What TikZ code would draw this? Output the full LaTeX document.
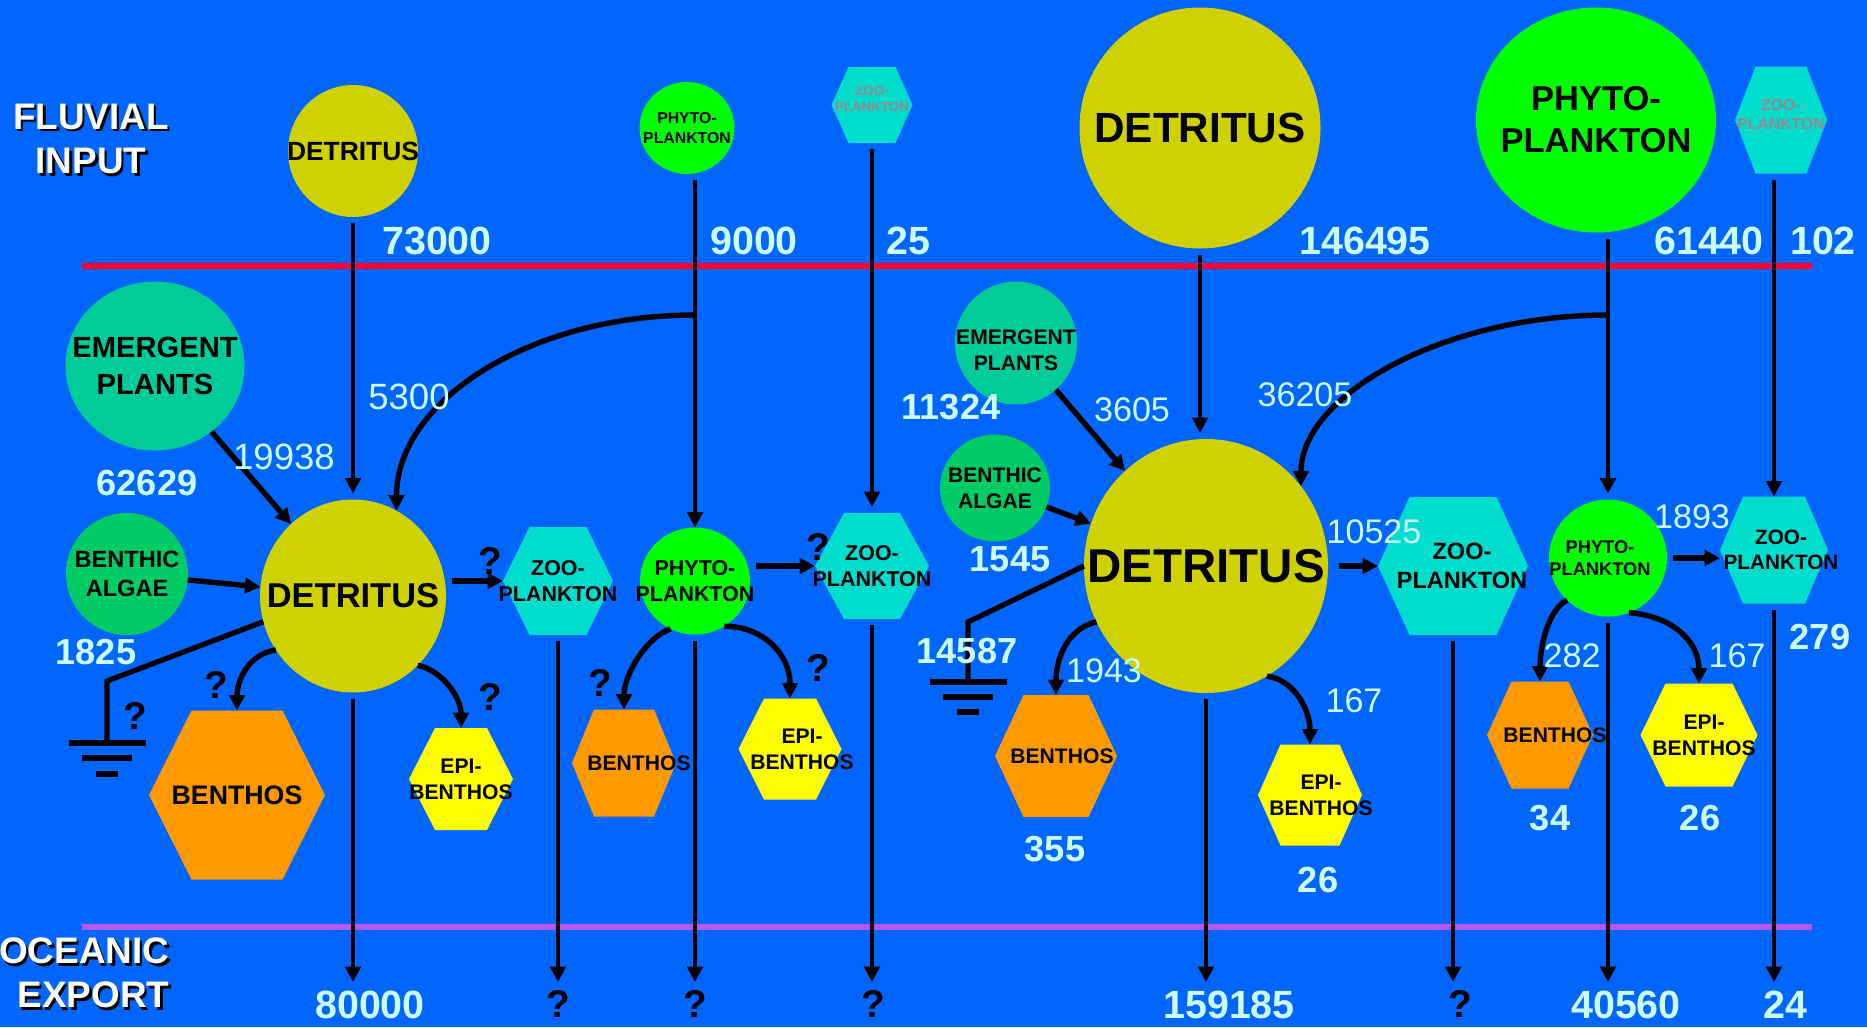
\documentclass[tikz,border=0pt]{standalone}
\usepackage{fontspec}
\setmainfont{Liberation Sans}
\usepackage{tikz}
\usetikzlibrary{shapes.geometric, arrows.meta, calc}

\definecolor{seablue}{RGB}{0,102,255}
\definecolor{detcol}{RGB}{208,210,0}
\definecolor{phycol}{RGB}{0,255,0}
\definecolor{zoocol}{RGB}{0,221,204}
\definecolor{emcol}{RGB}{0,204,153}
\definecolor{algcol}{RGB}{0,204,102}
\definecolor{bencol}{RGB}{255,153,0}
\definecolor{epicol}{RGB}{255,255,0}
\definecolor{numcol}{RGB}{204,255,255}
\definecolor{fluvred}{RGB}{255,0,51}
\definecolor{ocepurple}{RGB}{180,90,240}
\definecolor{fadetxt}{RGB}{150,135,145}

\newcommand{\fsz}[2]{\fontsize{#1}{#2}\selectfont}
% hexagon: name, centre, half width, half height, half top, fill, label options, text
\newcommand{\hexa}[8]{%
  \fill[#6] (#2) ++(-#3,0) -- ++(#3-#5,#4) -- ++(2*#5,0) -- ++(#3-#5,-#4) -- ++(#5-#3,-#4) -- ++(-2*#5,0) -- cycle;
  \node[hexbox, sz={2*#3}{2*#4}, label={[#7]center:{#8}}] (#1) at (#2) {};}

\begin{document}
\begin{tikzpicture}[x=0.01cm, y=0.01cm,
    blob/.style={ellipse, inner sep=0pt, outer sep=0pt},
    hexbox/.style={rectangle, inner sep=0pt, outer sep=0pt},
    sz/.style 2 args={minimum width=#1*0.01cm, minimum height=#2*0.01cm},
    every label/.style={align=center, inner sep=0pt},
    lsz/.style 2 args={font=\bfseries\fsz{#1}{#2}},
    val/.style={text=numcol, inner sep=0pt, font=\bfseries\fsz{11.2}{13}},
    stock/.style={text=numcol, inner sep=0pt, font=\bfseries\fsz{10.3}{12}},
    rate/.style={text=numcol, inner sep=0pt, font=\fsz{9.7}{12}},
    qmark/.style={inner sep=0pt, font=\bfseries\fsz{11}{13}},
    title/.style={inner sep=0pt, font=\bfseries\fsz{10.5}{12.6}},
    flow/.style={line width=1.2pt, -{Triangle[length=4.4pt, width=4.4pt]}},
    bent/.style={flow, line width=1.55pt},
    gap/.style={shorten <=0.06cm},
    gaps/.style={shorten <=0.06cm, shorten >=0.06cm},
    earth/.style={line width=1.5pt},
    boundary/.style={line width=1.45pt}]

\useasboundingbox (0,0) rectangle (1867,-1027);
\fill[seablue] (0,0) rectangle (1867,-1027);

% boundaries
\draw[boundary, fluvred] (82,-266) -- (1812,-266);
\draw[boundary, ocepurple] (82,-927) -- (1812,-927);

% titles
\node[title, align=center, text=black] (fluvialShade) at (93.5,-141.5) {FLUVIAL\\INPUT};
\node[title, align=center, text=white] (fluvial) at (91,-139) {FLUVIAL\\INPUT};
\node[title, align=right, anchor=east, text=black] (oceanicShade) at (172.5,-975.5) {OCEANIC\\EXPORT};
\node[title, align=right, anchor=east, text=white] (oceanic) at (170,-973) {OCEANIC\\EXPORT};

% river inputs
\node[blob, sz={130}{132}, fill=detcol, label={[lsz={7.5}{9}]center:{DETRITUS}}] (detIn) at (353,-151) {};
\node[blob, sz={95}{92}, fill=phycol, label={[lsz={4.5}{5.6}]center:{PHYTO-\\PLANKTON}}] (phyIn) at (687,-128) {};
\hexa{zooIn}{872,-105}{40.5}{38}{23.5}{zoocol}{lsz={3.8}{4.7}, text=fadetxt, yshift=0.06cm}{ZOO-\\PLANKTON}
\node[blob, sz={241}{241}, fill=detcol, label={[lsz={12}{14}]center:{DETRITUS}}] (detIn2) at (1200,-128) {};
\node[blob, sz={240}{225}, fill=phycol, label={[lsz={9.8}{12}]center:{PHYTO-\\PLANKTON}}] (phyIn2) at (1596,-120) {};
\hexa{zooIn2}{1781,-120}{46}{53.5}{25.5}{zoocol}{lsz={4.5}{5.4}, text=fadetxt, yshift=0.05cm}{ZOO-\\PLANKTON}

% left system
\node[blob, sz={179}{169}, fill=emcol, label={[lsz={8.3}{10.5}]center:{EMERGENT\\PLANTS}}] (emerL) at (155,-366) {};
\node[blob, sz={122}{122}, fill=algcol, label={[lsz={6.7}{8.2}]center:{BENTHIC\\ALGAE}}] (algL) at (127,-574) {};
\node[blob, sz={186}{193}, fill=detcol, label={[lsz={9.8}{12}]center:{DETRITUS}}] (detL) at (353,-596) {};
\node[blob, sz={110}{107}, fill=phycol, label={[lsz={6.1}{7.5}]center:{PHYTO-\\PLANKTON}}] (phyL) at (695,-581) {};
\hexa{zooL}{558,-581}{55}{54}{28.5}{zoocol}{lsz={6.1}{7.5}}{ZOO-\\PLANKTON}
\hexa{zooL2}{872,-566}{57}{53}{28}{zoocol}{lsz={6.1}{7.5}}{ZOO-\\PLANKTON}
\hexa{benL}{237,-795}{88}{84.5}{45.5}{bencol}{lsz={7.6}{9}}{BENTHOS}
\hexa{epiL}{461,-779}{52}{51}{26}{epicol}{lsz={6}{7.4}}{EPI-\\BENTHOS}
\hexa{benL2}{624,-763}{52}{53.5}{30}{bencol}{lsz={6}{7.4}, xshift=0.15cm}{BENTHOS}
\hexa{epiL2}{790,-749}{51.5}{50.5}{26}{epicol}{lsz={6}{7.4}, xshift=0.12cm}{EPI-\\BENTHOS}

% right system
\node[blob, sz={122}{123}, fill=emcol, label={[lsz={6}{7.4}, yshift=-0.07cm]center:{EMERGENT\\PLANTS}}] (emerR) at (1016,-343) {};
\node[blob, sz={110}{107}, fill=algcol, label={[lsz={6}{7.4}]center:{BENTHIC\\ALGAE}}] (algR) at (995,-488) {};
\node[blob, sz={244}{254}, fill=detcol, label={[lsz={13.5}{16}]center:{DETRITUS}}] (detR) at (1206,-566) {};
\node[blob, sz={118}{117}, fill=phycol, label={[lsz={5.2}{6.4}, xshift=-0.08cm]center:{PHYTO-\\PLANKTON}}] (phyR) at (1608,-558) {};
\hexa{zooR}{1453,-566}{75}{69}{43.5}{zoocol}{lsz={6.7}{8.2}, xshift=0.09cm}{ZOO-\\PLANKTON}
\hexa{zooR2}{1774,-550}{54}{53.5}{31}{zoocol}{lsz={5.9}{7.2}, xshift=0.07cm}{ZOO-\\PLANKTON}
\hexa{benR}{1056,-756}{61}{61}{32.5}{bencol}{lsz={6}{7.4}, xshift=0.06cm}{BENTHOS}
\hexa{epiR}{1310,-795}{52}{50.5}{29.5}{epicol}{lsz={6}{7.4}, xshift=0.11cm}{EPI-\\BENTHOS}
\hexa{benR2}{1540,-735}{53}{53.5}{28.5}{bencol}{lsz={6}{7.4}, xshift=0.15cm}{BENTHOS}
\hexa{epiR2}{1699,-735}{58.5}{51.5}{33.5}{epicol}{lsz={6}{7.4}, xshift=0.05cm}{EPI-\\BENTHOS}

\coordinate (branchRow) at (0,-315);
\coordinate (exportRow) at (0,-982);
\coordinate (splitL) at (phyL.north |- branchRow);
\coordinate (splitR) at (phyR.north |- branchRow);

% inflows
\draw[flow, gaps] (detIn.south) -- (detIn.south |- detL.north);
\draw[flow, gap] (phyL.north |- phyIn.south) -- (phyL.north);
\draw[flow, gaps] (zooIn.south) -- (zooL2.north);
\draw[flow, gaps] (detIn2.south) -- (detIn2.south |- detR.north);
\draw[flow, gaps] (phyR.north |- phyIn2.south) -- (phyR.north);
\draw[flow, gap] (zooR2.north |- zooIn2.south) -- (zooR2.north);
\draw[bent] (splitL) .. controls +(-166,0) and +(0,109) .. (detL.63);
\draw[bent] (splitR) .. controls +(-164,0) and +(0,91) .. (detR.40);

% internal transfers
\draw[bent] (emerL) -- (detL);
\draw[bent] (algL) -- (detL);
\draw[bent, gap] (detL.east |- zooL.west) -- (zooL.west);
\draw[bent, gap] (phyL.east |- zooL2.west) -- (zooL2.west);
\draw[bent] (emerR) -- (detR);
\draw[bent] (algR) -- (detR);
\draw[bent, shorten <=0.11cm] (detR.east) -- (zooR.west);
\draw[bent, gap] (phyR.east) -- (phyR.east -| zooR2.west);
\draw[bent] (detL.215) .. controls +(-27,-4) and +(0,31) .. (benL.north);
\draw[bent] (detL.-47) .. controls +(25,-5) and +(0,30) .. (epiL.north);
\draw[bent] (phyL.243) .. controls +(-24,-8) and +(0,35) .. (benL2.north);
\draw[bent] (phyL.-57) .. controls +(38,0) and +(0,45) .. (epiL2.north);
\draw[bent] (detR.207) .. controls +(-30,-7) and +(0,35) .. (benR.north);
\draw[bent] (detR.-61) .. controls +(30,-5) and +(0,32) .. (epiR.north);
\draw[bent] (phyR.226) .. controls +(-18,-8) and +(0,37) .. (benR2.north);
\draw[bent] (phyR.-69) .. controls +(43,-3) and +(0,42) .. (epiR2.north);

% exports
\foreach \src in {detL, zooL, phyL, zooL2, detR, zooR, phyR, zooR2}
  \draw[flow, gap] (\src.south) -- (\src.south |- exportRow);

% burial
\coordinate (gndL) at (107,-681);
\coordinate (gndR) at (968,-622);
\draw[earth] (detL.196) -- (gndL) -- ++(0,-62);
\draw[earth] (detR.west) -- (gndR) -- ++(0,-60);
\foreach \d/\w in {62/38.5, 77/25, 93/11}
  \draw[earth] ([shift={(-\w,-\d)}]gndL) -- ++(2*\w,0);
\foreach \d/\w in {60/38.5, 75/25, 90/11}
  \draw[earth] ([shift={(-\w,-\d)}]gndR) -- ++(2*\w,0);

% stocks and flows
\node[val] (vDetIn) at (437,-241) {73000};
\node[val] (vPhyIn) at (754,-241) {9000};
\node[val] (vZooIn) at (908,-241) {25};
\node[val] (vDetIn2) at (1365,-241) {146495};
\node[val] (vPhyIn2) at (1709,-241) {61440};
\node[val] (vZooIn2) at (1823,-241) {102};
\node[stock] (vEmerL) at (147,-483) {62629};
\node[stock] (vAlgL) at (96,-652) {1825};
\node[stock] (vEmerR) at (951,-407) {11324};
\node[stock] (vAlgR) at (1010,-559) {1545};
\node[stock] (vBurR) at (967,-651) {14587};
\node[stock] (vZooR2) at (1820,-637) {279};
\node[stock] (vBenR) at (1055,-849) {355};
\node[stock] (vEpiR) at (1318,-880) {26};
\node[stock] (vBenR2) at (1550,-818) {34};
\node[stock] (vEpiR2) at (1700,-818) {26};
\node[rate, font=\fsz{10.4}{12}] (fPhyDetL) at (409,-397) {5300};
\node[rate, font=\fsz{10.4}{12}] (fEmerL) at (284,-457) {19938};
\node[rate] (fEmerR) at (1132,-410) {3605};
\node[rate] (fPhyDetR) at (1305,-395) {36205};
\node[rate] (fDetZooR) at (1374,-532) {10525};
\node[rate] (fPhyZooR) at (1692,-517) {1893};
\node[rate] (fDetBenR) at (1104,-671) {1943};
\node[rate] (fDetEpiR) at (1354,-701) {167};
\node[rate] (fPhyBenR) at (1572,-656) {282};
\node[rate] (fPhyEpiR) at (1737,-656) {167};
\node[qmark] (qDetZoo) at (490,-561) {?};
\node[qmark] (qBurL) at (135,-716) {?};
\node[qmark] (qDetBen) at (216,-685) {?};
\node[qmark] (qDetEpi) at (490,-697) {?};
\node[qmark] (qPhyBen) at (600,-683) {?};
\node[qmark] (qPhyEpi) at (818,-668) {?};
\node[qmark] (qPhyZoo) at (818,-547) {?};

% exports out
\node[val] (oDetL) at (370,-1005) {80000};
\node[qmark] (oZooL) at (558,-1004) {?};
\node[qmark] (oPhyL) at (695,-1004) {?};
\node[qmark] (oZooL2) at (873,-1004) {?};
\node[val] (oDetR) at (1229,-1005) {159185};
\node[qmark] (oZooR) at (1460,-1004) {?};
\node[val] (oPhyR) at (1626,-1005) {40560};
\node[val] (oZooR2) at (1785,-1005) {24};
\end{tikzpicture}
\end{document}
